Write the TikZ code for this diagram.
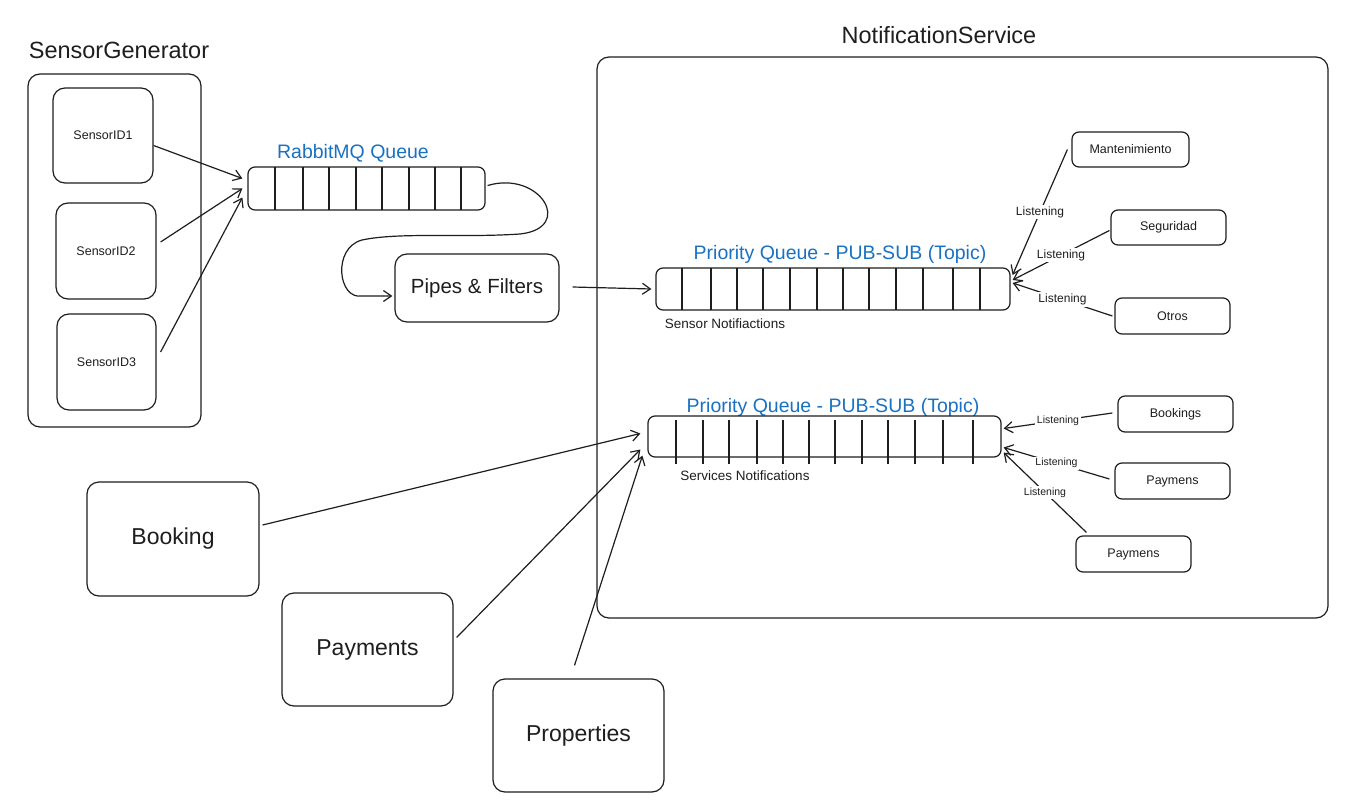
\documentclass[tikz,border=0pt]{standalone}
\usepackage{fontspec}
\setmainfont{Liberation Sans}
\usetikzlibrary{arrows.meta,calc}
\definecolor{ink}{HTML}{1E1E1E}
\definecolor{qblue}{HTML}{1971C2}
\tikzset{
  box/.style={draw=ink, line width=1.2pt, rounded corners=12pt, inner sep=0pt, text=ink},
  smallbox/.style={box, rounded corners=7pt, font=\fontsize{12.5}{15}\selectfont},
  bigbox/.style={box, rounded corners=12pt, font=\fontsize{23}{27}\selectfont},
  queue/.style={draw=ink, line width=1.2pt, rounded corners=7pt, inner sep=0pt},
  divider/.style={draw=ink, line width=1.1pt},
  conn/.style={draw=ink, line width=1.2pt, -{Straight Barb[length=8pt,width=11pt]}},
  lbl/.style={font=\fontsize{12}{14}\selectfont, text=ink, fill=white, inner sep=1.5pt},
  slbl/.style={lbl, font=\fontsize{10.5}{12}\selectfont},
  qlabel/.style={font=\fontsize{19.5}{23}\selectfont, text=qblue, inner sep=0pt},
  title/.style={font=\fontsize{23.5}{28}\selectfont, text=ink, inner sep=0pt},
  note/.style={font=\fontsize{13.5}{16}\selectfont, text=ink, inner sep=0pt}
}
\begin{document}
\begin{tikzpicture}[x=1pt,y=-1pt]
\useasboundingbox[fill=white] (0,0) rectangle (1350,811);

% containers
\node[title] (sgt) at (119,50) {SensorGenerator};
\node[box, minimum width=173pt, minimum height=353pt] (sg) at (114.5,250.5) {};
\node[title] (nst) at (939,35) {NotificationService};
\node[box, minimum width=731pt, minimum height=561pt] (ns) at (962.5,337.5) {};

% sensors
\node[smallbox, rounded corners=12pt, minimum width=100pt, minimum height=95pt] (s1) at (103,135.5) {SensorID1};
\node[smallbox, rounded corners=12pt, minimum width=100pt, minimum height=96pt] (s2) at (106,251) {SensorID2};
\node[smallbox, rounded corners=12pt, minimum width=99pt, minimum height=96pt] (s3) at (106.5,362) {SensorID3};

% RabbitMQ queue
\node[qlabel] (rqt) at (353,153) {RabbitMQ Queue};
\node[queue, minimum width=237pt, minimum height=43pt] (rq) at (366.5,188.5) {};
\foreach \x in {275,303,329,356,382,409,435,461}
  \draw[divider] (\x,167) -- (\x,210);

% Pipes & Filters
\node[box, font=\fontsize{20.5}{24}\selectfont, minimum width=164pt, minimum height=68pt] (pf) at (477,288) {Pipes \& Filters};

% Priority queue 1
\node[qlabel] (pq1t) at (840,254) {Priority Queue - PUB-SUB (Topic)};
\node[queue, minimum width=354pt, minimum height=42pt] (pq1) at (833,289) {};
\foreach \x in {682,711,737,763,790,817,843,869,896,923,953,980}
  \draw[divider] (\x,268) -- (\x,310);
\node[note] (sn) at (725,324) {Sensor Notifiactions};

% Priority queue 2
\node[qlabel] (pq2t) at (833,407) {Priority Queue - PUB-SUB (Topic)};
\node[queue, minimum width=353pt, minimum height=41pt] (pq2) at (824.5,436.5) {};
\foreach \x in {676,703,729,757,783,809,835,862,888,915,943,973}
  \draw[divider] (\x,420) -- (\x,464);
\node[note] (svn) at (745,476) {Services Notifications};

% subscribers
\node[smallbox, minimum width=117pt, minimum height=35pt] (mant) at (1130.5,149.5) {Mantenimiento};
\node[smallbox, minimum width=115pt, minimum height=35pt] (seg) at (1168.5,227.5) {Seguridad};
\node[smallbox, minimum width=115pt, minimum height=36pt] (otr) at (1172.5,316) {Otros};
\node[smallbox, minimum width=115pt, minimum height=36pt] (bkg) at (1175.5,414) {Bookings};
\node[smallbox, minimum width=115pt, minimum height=36pt] (pm1) at (1172.5,481) {Paymens};
\node[smallbox, minimum width=115pt, minimum height=36pt] (pm2) at (1133.5,554) {Paymens};

% producers
\node[bigbox, minimum width=172pt, minimum height=114pt] (bk) at (173,539) {Booking};
\node[bigbox, minimum width=171pt, minimum height=113pt] (pay) at (367.5,649.5) {Payments};
\node[bigbox, minimum width=171pt, minimum height=113pt] (prop) at (578.5,735.5) {Properties};

% connectors: sensors -> RabbitMQ
\draw[conn] ($(s1.east)+(0,10)$) -- ($(rq.west)+(-5,-10)$);
\draw[conn] ($(s2.east)+(4,-9)$) -- ($(rq.west)+(-5,0)$);
\draw[conn] ($(s3.east)+(4,-10)$) -- ($(rq.west)+(-5,9)$);

% RabbitMQ -> Pipes & Filters
\draw[conn] ($(rq.east)+(2,-3)$) .. controls (540,170) and (575,228) .. (520,234)
  .. controls (460,238) and (400,232) .. (362,240)
  .. controls (332,248) and (338,300) .. (362,296) -- ($(pf.west)+(-2,8)$);

% Pipes & Filters -> PQ1
\draw[conn] ($(pf.east)+(13,-1)$) -- ($(pq1.west)+(-4,0)$);

% producers -> PQ2
\draw[conn] ($(bk.east)+(3,-14)$) -- ($(pq2.west)+(-7,-3)$);
\draw[conn] ($(pay.east)+(3,-12)$) -- ($(pq2.west)+(-7,13)$);
\draw[conn] ($(prop.north)+(-4,-13)$) -- ($(pq2.south west)+(-5,-2)$);

% subscribers -> PQ1
\draw[conn] ($(mant.west)+(-4,0)$) -- node[lbl, pos=0.5] {Listening} ($(pq1.east)+(2,-14)$);
\draw[conn] ($(seg.west)+(-1,3)$) -- node[lbl, pos=0.5] {Listening} ($(pq1.east)+(2,-9)$);
\draw[conn] ($(otr.west)+(-2,0)$) -- node[lbl, pos=0.5] {Listening} ($(pq1.east)+(2,-6)$);

% subscribers -> PQ2
\draw[conn] ($(bkg.west)+(-5,-1)$) -- node[slbl, pos=0.5] {Listening} ($(pq2.east)+(2,-8)$);
\draw[conn] ($(pm1.west)+(-5,-2)$) -- node[slbl, pos=0.5] {Listening} ($(pq2.east)+(2,11)$);
\draw[conn] ($(pm2.north west)+(11,-3)$) -- node[slbl, pos=0.5] {Listening} ($(pq2.east)+(2,16)$);
\end{tikzpicture}
\end{document}
